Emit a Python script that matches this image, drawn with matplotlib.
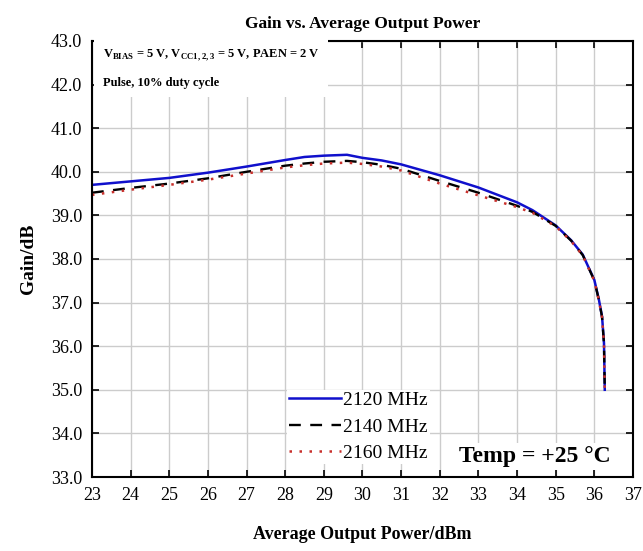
import matplotlib
matplotlib.use('Agg')
import matplotlib.pyplot as plt
import numpy as np

# data
power = [23, 24, 25, 26, 27, 28, 28.5, 29, 29.6, 30, 30.5, 31, 32, 33, 34,
         34.4, 35, 35.4, 35.7, 36.0, 36.12, 36.2, 36.25, 36.27]
gain_2120 = [39.70, 39.78, 39.86, 39.98, 40.12, 40.27, 40.34, 40.37, 40.39, 40.32,
             40.26, 40.17, 39.92, 39.64, 39.30, 39.12, 38.77, 38.43, 38.10, 37.52,
             37.06, 36.68, 36.07, 35.00]
gain_2140 = [39.52, 39.63, 39.73, 39.85, 40.00, 40.14, 40.19, 40.23, 40.25, 40.22,
             40.16, 40.07, 39.79, 39.52, 39.22, 39.08, 38.76, 38.42, 38.09, 37.51,
             37.05, 36.67, 36.06, 35.00]
gain_2160 = [39.47, 39.59, 39.70, 39.82, 39.96, 40.10, 40.15, 40.19, 40.21, 40.18,
             40.12, 40.03, 39.73, 39.46, 39.19, 39.06, 38.75, 38.41, 38.08, 37.50,
             37.04, 36.66, 36.05, 35.00]
labels = ['2120 MHz', '2140 MHz', '2160 MHz']
x_ticks = list(range(23, 38))
y_ticks = list(range(33, 44))

plt.rcParams['font.family'] = ['Liberation Serif', 'DejaVu Serif']
plt.rcParams['mathtext.fontset'] = 'custom'
plt.rcParams['mathtext.rm'] = 'Liberation Serif'
plt.rcParams['mathtext.bf'] = 'Liberation Serif:bold'

fig = plt.figure(figsize=(6.43, 5.51), dpi=100)
ax = fig.add_axes([0.143, 0.1343, 0.8414, 0.7913])

ax.plot(power, gain_2120, color='#1010cc', lw=1.8, label=labels[0])
ax.plot(power, gain_2140, color='black', lw=1.7, ls=(0, (5, 4)), label=labels[1])
ax.plot(power, gain_2160, color='#c8302c', lw=1.8, ls=(0, (1, 3)), label=labels[2])

ax.set_xlim(23, 37)
ax.set_ylim(33, 43)
ax.set_xticks(x_ticks)
ax.set_yticks(y_ticks)
ax.set_yticklabels(['%.1f' % v for v in y_ticks])
ax.tick_params(direction='in', length=5, width=1.2, top=True, right=True,
               labelsize=13, pad=7)
ax.grid(True, color='#cccccc', lw=1.0)
for s in ax.spines.values():
    s.set_linewidth(1.5)

ax.set_title('Gain vs. Average Output Power', fontsize=12.5, fontweight='bold', pad=9)
ax.set_xlabel('Average Output Power/dBm', fontsize=13, fontweight='bold', labelpad=16)
ax.set_ylabel('Gain/dB', fontsize=14, fontweight='bold', labelpad=10)

ax.text(0.02, 0.985,
        r'$\mathbf{V}_{\mathbf{BIAS}}$ = 5 V, $\mathbf{V}_{\mathbf{CC1,2,3}}$ = 5 V, PAEN = 2 V'
        '\nPulse, 10% duty cycle',
        transform=ax.transAxes, fontsize=9, fontweight='bold', va='top', ha='left',
        linespacing=2.5,
        bbox=dict(facecolor='white', edgecolor='none', pad=6), zorder=4)

ax.text(0.678, 0.047, 'Temp = +25 °C', transform=ax.transAxes, fontsize=17,
        fontweight='bold', va='center', ha='left',
        bbox=dict(facecolor='white', edgecolor='none', pad=2), zorder=4)

leg = ax.legend(loc='lower left', bbox_to_anchor=(0.36, 0.03), fontsize=14,
                frameon=True, fancybox=False, edgecolor='none', framealpha=1,
                handlelength=2.7, handletextpad=0.1, labelspacing=0.45,
                borderpad=0.1, borderaxespad=0)
leg.set_zorder(4)

plt.savefig('out.png', dpi=100)
